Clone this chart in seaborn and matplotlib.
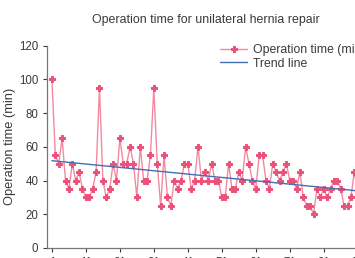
import numpy as np
import pandas as pd
import seaborn as sns
import matplotlib.pyplot as plt

# 数据
case_no = list(range(1, 92))
op_time = [100, 55, 50, 65, 40, 35, 50, 40, 45, 35,
           30, 30, 35, 45, 95, 40, 30, 35, 50, 40,
           65, 50, 50, 60, 50, 30, 60, 40, 40, 55,
           95, 50, 25, 55, 30, 25, 40, 35, 40, 50,
           50, 35, 40, 60, 40, 45, 40, 50, 40, 40,
           30, 30, 50, 35, 35, 45, 40, 60, 50, 40,
           35, 55, 55, 40, 35, 50, 45, 40, 45, 50,
           40, 40, 35, 45, 30, 25, 25, 20, 35, 30,
           35, 30, 35, 40, 40, 35, 25, 25, 30, 45,
           35]
xtick_vals = list(range(1, 92, 10))

# 趋势线：线性拟合
coef = np.polyfit(case_no, op_time, 1)
trend = np.polyval(coef, case_no)

df = pd.DataFrame({"case": case_no, "time": op_time, "trend": trend})

sns.set_style("ticks")
plt.rcParams['font.family'] = ['Liberation Sans', 'DejaVu Sans']

fig = plt.figure(figsize=(3.55, 2.58), dpi=100)
ax = fig.add_axes([47.5 / 355, 10 / 258, 317 / 355, 202.5 / 258])

sns.lineplot(data=df, x="case", y="time", ax=ax, color="#f28aa3", linewidth=1.0,
             marker="P", markersize=3.8, markerfacecolor="#ea5279",
             markeredgecolor="#ea5279", label="Operation time (min)")
sns.lineplot(data=df, x="case", y="trend", ax=ax, color="#3f70b2", linewidth=1.0,
             label="Trend line")

ax.set_xlim(-0.3, 93)
ax.set_ylim(0, 120)
ax.set_yticks([0, 20, 40, 60, 80, 100, 120])
ax.set_xticks(xtick_vals)
ax.set_xticklabels([str(v) for v in xtick_vals])
ax.tick_params(labelsize=8.3, colors="#3a3a3a", length=3, width=0.8)
for s in ["left", "bottom"]:
    ax.spines[s].set_color("#777777")
    ax.spines[s].set_linewidth(0.9)
sns.despine(ax=ax)

ax.set_xlabel("")
ax.set_ylabel("Operation time (min)", fontsize=9.3, color="#3a3a3a", labelpad=2)
ax.set_title("Operation time for unilateral hernia repair", fontsize=8.9,
             color="#3a3a3a", pad=16)

leg = ax.legend(loc="upper left", bbox_to_anchor=(0.53, 1.03), frameon=False,
                fontsize=8.8, handlelength=2.2, handletextpad=0.5,
                labelspacing=0.1, borderaxespad=0)
for t in leg.get_texts():
    t.set_color("#3a3a3a")

fig.savefig("out.png", dpi=100)
